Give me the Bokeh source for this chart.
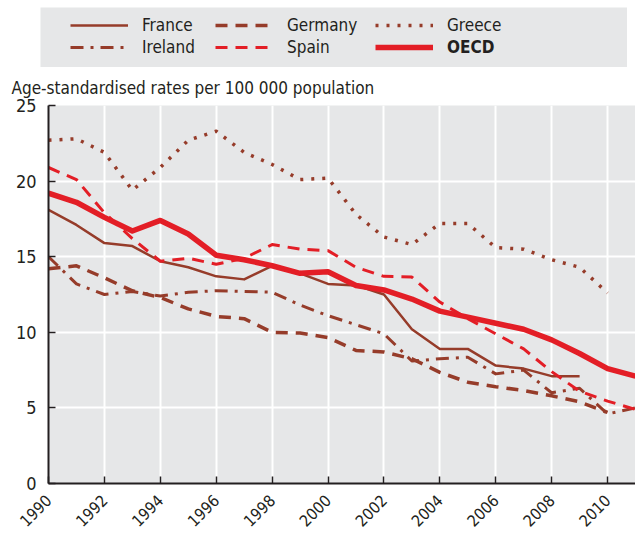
import math
from bokeh.plotting import figure
from bokeh.models import Legend, LegendItem, Range1d, FixedTicker, ColumnDataSource
from bokeh.layouts import column
from bokeh.embed import file_html
from bokeh.resources import INLINE

nan = float("nan")

years = list(range(1990, 2012))
france = [18.1, 17.1, 15.9, 15.7, 14.7, 14.3, 13.7, 13.5, 14.4, 13.9, 13.2, 13.1, 12.5, 10.2, 8.9, 8.9, 7.8, 7.6, 7.1, 7.1, nan, nan]
germany = [14.2, 14.4, 13.6, 12.75, 12.3, 11.55, 11.05, 10.9, 10.0, 9.95, 9.65, 8.8, 8.7, 8.25, 7.35, 6.7, 6.4, 6.15, 5.8, 5.4, 4.7, nan]
greece = [22.7, 22.8, 21.9, 19.4, 20.9, 22.7, 23.3, 21.9, 21.1, 20.1, 20.2, 17.8, 16.3, 15.8, 17.2, 17.2, 15.6, 15.5, 14.8, 14.3, 12.6, nan]
ireland = [15.0, 13.2, 12.5, 12.7, 12.4, 12.65, 12.75, 12.7, 12.65, 11.8, 11.1, 10.5, 9.9, 8.1, 8.25, 8.35, 7.25, 7.5, 6.0, 6.3, 4.6, 5.0]
spain = [20.9, 20.1, 17.9, 16.2, 14.7, 14.9, 14.5, 14.9, 15.8, 15.5, 15.4, 14.3, 13.7, 13.65, 12.0, 10.9, 9.9, 8.9, 7.4, 6.1, 5.45, 4.9]
oecd = [19.2, 18.6, 17.6, 16.7, 17.4, 16.5, 15.1, 14.8, 14.4, 13.9, 14.0, 13.1, 12.8, 12.2, 11.4, 11.0, 10.6, 10.2, 9.5, 8.6, 7.6, 7.1]

x_ticks = list(range(1990, 2011, 2))
y_ticks = [0, 5, 10, 15, 20, 25]
y_title = "Age-standardised rates per 100 000 population"

BROWN = "#963c2a"
RED = "#e31e26"
BG = "#e6e7e8"
TXT = "#231f20"
FONT = "'Liberation Sans Narrow', 'DejaVu Sans Condensed', sans-serif"

styles = {
    "France": dict(color=BROWN, line_width=2.5, line_dash="solid"),
    "Germany": dict(color=BROWN, line_width=3.5, line_dash="12 8"),
    "Greece": dict(color=BROWN, line_width=3.5, line_dash="3 8"),
    "Ireland": dict(color=BROWN, line_width=3, line_dash="13 7 3 7"),
    "Spain": dict(color=RED, line_width=3, line_dash="12 8"),
    "OECD": dict(color=RED, line_width=5.5, line_dash="solid"),
}
series = {"France": france, "Germany": germany, "Greece": greece,
          "Ireland": ireland, "Spain": spain, "OECD": oecd}

src = ColumnDataSource(dict(year=years, **series))

# ---- main chart ----
p = figure(width=635, height=467, x_range=Range1d(1990, 2011), y_range=Range1d(0, 25),
           output_backend="svg", toolbar_location=None, title=y_title,
           min_border_left=48, min_border_right=0, min_border_top=38, min_border_bottom=51,
           background_fill_color=BG, border_fill_color="white", outline_line_color=None)

p.title.align = "left"
p.title.offset = -37
p.title.text_font = FONT
p.title.text_font_size = "17px"
p.title.text_font_style = "normal"
p.title.text_color = TXT
p.title.standoff = 15

p.xaxis.ticker = FixedTicker(ticks=x_ticks)
p.yaxis.ticker = FixedTicker(ticks=y_ticks)
for ax in (p.xaxis, p.yaxis):
    ax.axis_line_color = TXT
    ax.axis_line_width = 2
    ax.major_tick_line_color = TXT
    ax.major_tick_line_width = 1.5
    ax.major_tick_in = 7
    ax.major_tick_out = 0
    ax.minor_tick_line_color = None
    ax.major_label_text_font = FONT
    ax.major_label_text_color = TXT
p.yaxis.major_label_text_font_size = "18px"
p.xaxis.major_label_text_font_size = "16px"
p.yaxis.major_label_standoff = 12
p.xaxis.major_label_standoff = 14
p.xaxis.major_label_orientation = math.pi / 4

p.grid.grid_line_color = "white"
p.grid.grid_line_width = 2

for name in ["Greece", "Germany", "Ireland", "France", "Spain", "OECD"]:
    st = styles[name]
    p.line(x="year", y=name, source=src, line_color=st["color"], line_width=st["line_width"],
           line_dash=st["line_dash"], line_cap="butt", line_join="round")

# ---- legend box (its frame is aligned with the chart's frame, so shift it left) ----
lf = figure(width=643, height=60, x_range=Range1d(0, 1), y_range=Range1d(0, 1),
            output_backend="svg", toolbar_location=None,
            min_border_left=0, min_border_right=0, min_border_top=0, min_border_bottom=0,
            x_axis_location=None, y_axis_location=None,
            background_fill_color=BG, border_fill_color="white", outline_line_color=None,
            margin=(7, 0, 0, -8))
lf.grid.visible = False

dummy = {}
for name in ["France", "Germany", "Greece", "Ireland", "Spain", "OECD"]:
    st = styles[name]
    dummy[name] = lf.line(x=[nan, nan], y=[nan, nan], line_color=st["color"], line_width=st["line_width"],
                          line_dash=st["line_dash"], line_cap="butt")

def make_legend(names, loc, bold=False):
    lg = Legend(items=[LegendItem(label=n, renderers=[dummy[n]]) for n in names],
                location=loc, orientation="vertical", padding=0, margin=0, spacing=2,
                glyph_width=58, glyph_height=20, label_height=20, label_standoff=14,
                label_text_font=FONT, label_text_font_size="17px",
                label_text_color=TXT, label_text_font_style="bold" if bold else "normal",
                background_fill_alpha=0, border_line_color=None)
    lf.add_layout(lg, "center")

make_legend(["France", "Ireland"], (30, 10))
make_legend(["Germany", "Spain"], (175, 10))
make_legend(["Greece"], (335, 32))
make_legend(["OECD"], (335, 10), bold=True)

layout = column(lf, p, spacing=0)
open("out.html", "w").write(file_html(layout, INLINE))
